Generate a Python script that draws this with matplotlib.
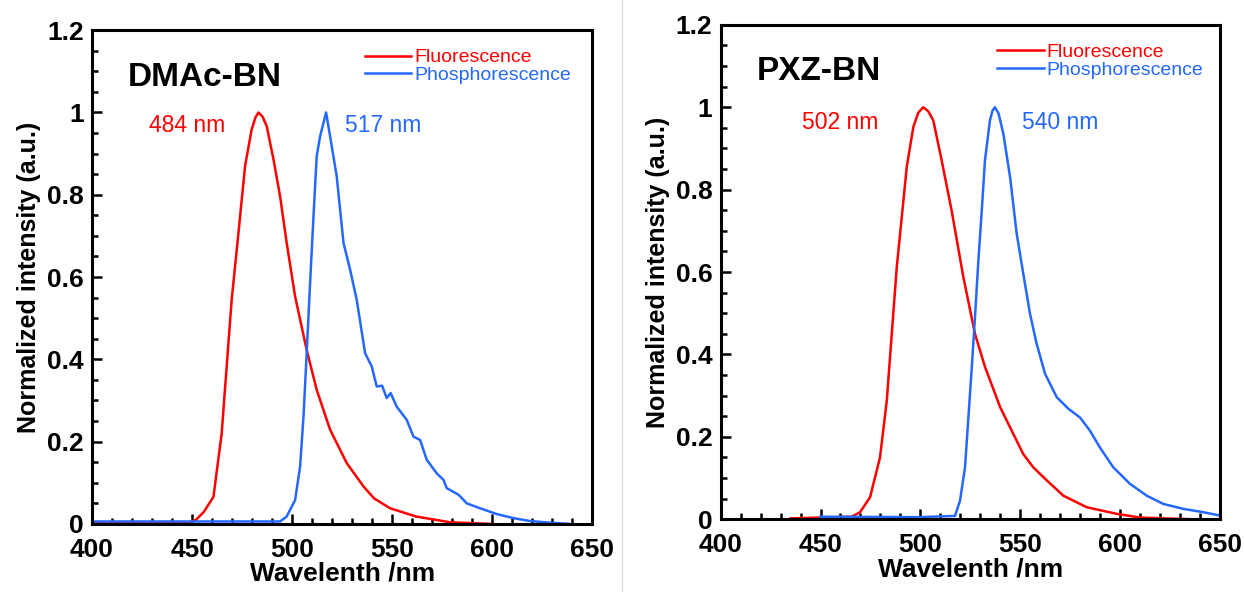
import matplotlib.pyplot as plt
from matplotlib.lines import Line2D
from matplotlib.ticker import MultipleLocator

plt.rcParams['font.family'] = ['Liberation Sans', 'DejaVu Sans']

red = "#ff0000"
blue = "#2468ff"

# DMAc-BN
dmac_fl_x = [400, 440, 449, 452, 456, 460.7, 464.8, 467.3, 469.8, 473.2, 476.5, 479.8, 481.7, 483.2,
             485.2, 487.3, 490.7, 494, 497.3, 501.5, 507.3, 512.3, 519, 527.3, 535.7, 541, 549, 562, 579, 600]
dmac_fl_y = [0.004, 0.004, 0.004, 0.01, 0.03, 0.066, 0.22, 0.383, 0.545, 0.708, 0.87, 0.959, 0.988, 1.0,
             0.99, 0.967, 0.886, 0.796, 0.683, 0.553, 0.423, 0.326, 0.229, 0.148, 0.091, 0.062, 0.038, 0.018, 0.004, 0.0]
dmac_ph_x = [400, 470, 494, 497.3, 501.5, 504, 505.7, 507.3, 509, 510.7, 512.3, 514, 517, 519,
             522.3, 525.7, 529, 532.3, 536.5, 539.8, 542.3, 545, 547.3, 549.3, 552.3, 557.3, 560.7,
             564, 567.3, 572.3, 575.7, 577.3, 583.2, 587.3, 594, 602.3, 610.7, 619, 629, 639]
dmac_ph_y = [0.006, 0.006, 0.006, 0.018, 0.058, 0.139, 0.261, 0.415, 0.586, 0.748, 0.894, 0.942, 1.0, 0.942,
             0.845, 0.683, 0.618, 0.545, 0.415, 0.383, 0.334, 0.336, 0.306, 0.318, 0.285, 0.253, 0.212,
             0.204, 0.156, 0.123, 0.107, 0.087, 0.071, 0.050, 0.038, 0.024, 0.014, 0.007, 0.003, 0.0]

# PXZ-BN
pxz_fl_x = [435, 450, 465.6, 469.8, 474.8, 479.8, 483.2, 485.7, 488.2, 490.7, 493.2, 496.5, 499,
            501.5, 504, 506.5, 510.7, 515.7, 521.6, 527.4, 532.4, 540, 546.6, 551.6, 556.6, 563.4,
            571.7, 583.4, 598.4, 610, 635]
pxz_fl_y = [0.002, 0.004, 0.006, 0.017, 0.053, 0.150, 0.288, 0.450, 0.612, 0.733, 0.855, 0.952, 0.987,
            1.0, 0.99, 0.968, 0.871, 0.749, 0.587, 0.450, 0.370, 0.272, 0.207, 0.158, 0.126, 0.094,
            0.057, 0.029, 0.013, 0.004, 0.0]
pxz_ph_x = [450, 500, 517.4, 519.9, 522.4, 524.1, 525.8, 527.4, 529.1, 530.8, 532.4, 534.9, 536.2,
            537.4, 539.2, 541.6, 545, 548.3, 551.6, 555, 558.3, 562.5, 568.4, 574.2, 580, 585, 590,
            596.7, 605, 613.5, 621.8, 631.8, 641.8, 650]
pxz_ph_y = [0.006, 0.005, 0.008, 0.045, 0.126, 0.247, 0.369, 0.490, 0.628, 0.749, 0.871, 0.968, 0.992,
            1.0, 0.985, 0.936, 0.830, 0.693, 0.596, 0.498, 0.426, 0.353, 0.296, 0.268, 0.247, 0.215,
            0.174, 0.126, 0.086, 0.057, 0.037, 0.025, 0.017, 0.009]

panels = [
    ("DMAc-BN", dmac_fl_x, dmac_fl_y, dmac_ph_x, dmac_ph_y, "484 nm", "517 nm",
     [0.074, 0.115, 0.402, 0.834], (466.5, 0.969), (526.5, 0.969), 0.985),
    ("PXZ-BN", pxz_fl_x, pxz_fl_y, pxz_ph_x, pxz_ph_y, "502 nm", "540 nm",
     [0.5794, 0.123, 0.401, 0.835], (478.8, 0.962), (551, 0.962), 0.995),
]

yticks = [0, 0.2, 0.4, 0.6, 0.8, 1.0, 1.2]
ytick_labels = ["0", "0.2", "0.4", "0.6", "0.8", "1", "1.2"]

fig = plt.figure(figsize=(12.44, 5.92), dpi=100)

for name, fx, fy, px, py, fl_lab, ph_lab, rect, fl_pos, ph_pos, leg_x in panels:
    ax = fig.add_axes(rect)
    ax.plot(fx, fy, color=red, lw=1.8, label="Fluorescence")
    ax.plot(px, py, color=blue, lw=1.8, label="Phosphorescence")
    ax.set_xlim(400, 650)
    ax.set_ylim(0, 1.2)
    ax.set_xticks([400, 450, 500, 550, 600, 650])
    ax.set_yticks(yticks)
    ax.set_yticklabels(ytick_labels)
    ax.xaxis.set_minor_locator(MultipleLocator(10))
    ax.yaxis.set_minor_locator(MultipleLocator(0.05))
    ax.tick_params(which="both", direction="in", width=1.8, labelsize=19)
    ax.tick_params(axis="x", pad=10)
    ax.tick_params(axis="y", pad=6)
    ax.tick_params(which="major", length=7)
    ax.tick_params(which="minor", length=4)
    for lab in ax.get_xticklabels() + ax.get_yticklabels():
        lab.set_fontweight("bold")
    for s in ax.spines.values():
        s.set_linewidth(2.2)
    ax.set_xlabel("Wavelenth /nm", fontsize=19, fontweight="bold", labelpad=0)
    ax.set_ylabel("Normalized intensity (a.u.)", fontsize=18, fontweight="bold", labelpad=4)
    ax.text(0.072, 0.905, name, transform=ax.transAxes, fontsize=24, fontweight="bold",
            va="center", ha="left")
    ax.text(fl_pos[0], fl_pos[1], fl_lab, color=red, fontsize=16.5, ha="right", va="center")
    ax.text(ph_pos[0], ph_pos[1], ph_lab, color=blue, fontsize=16.5, ha="left", va="center")
    ax.legend(loc="upper right", bbox_to_anchor=(leg_x, 0.99), frameon=False, fontsize=14,
              handlelength=2.4, handletextpad=0.15, labelspacing=0.0, labelcolor="linecolor",
              borderaxespad=0.3)

fig.add_artist(Line2D([0.5, 0.5], [0.0, 1.0], color="#dddddd", lw=1))

fig.savefig("out.png", dpi=100)
